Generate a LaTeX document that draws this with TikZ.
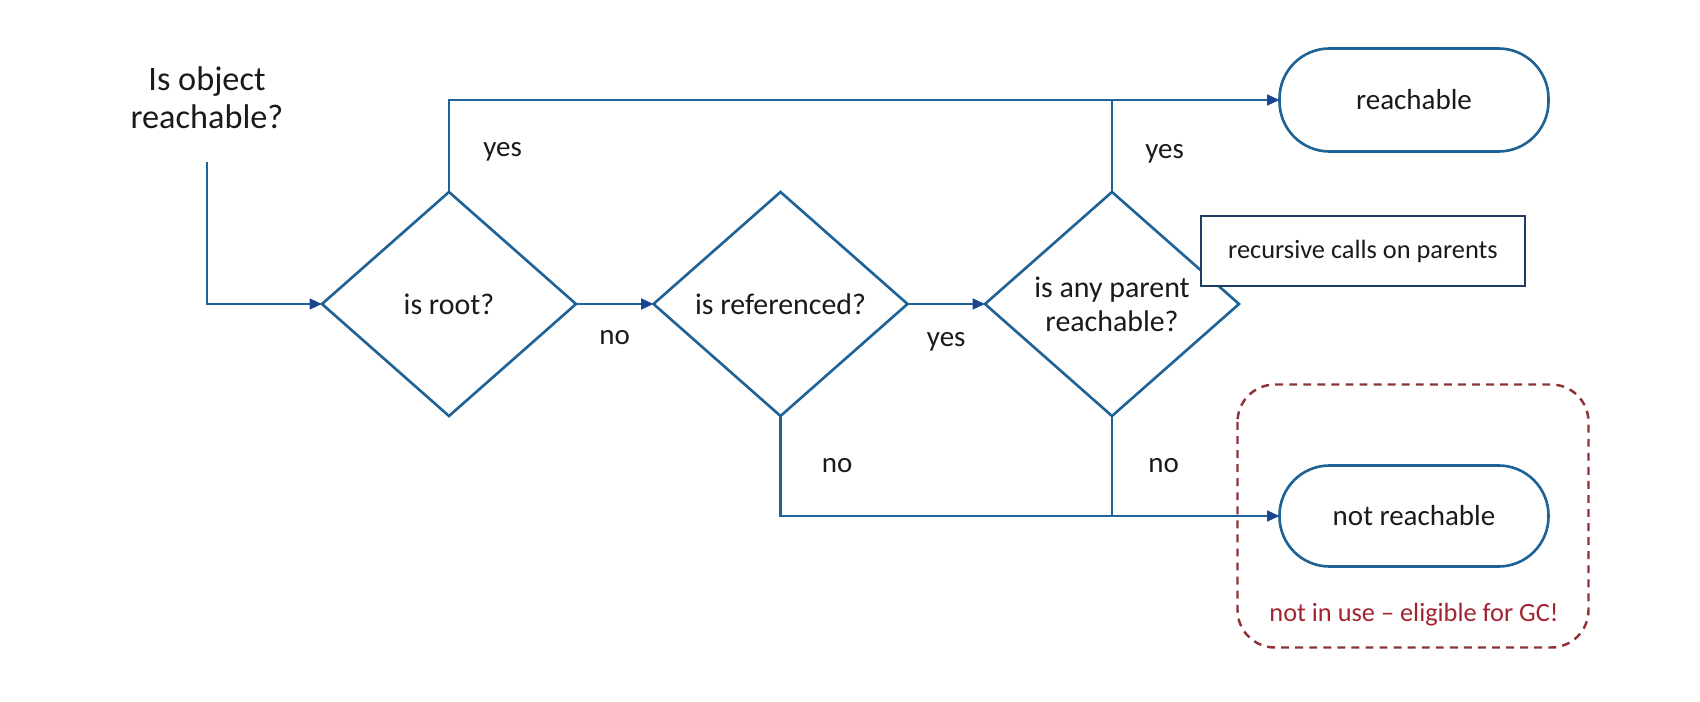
\documentclass[tikz,border=0pt]{standalone}
\usepackage{fontspec}
\setmainfont{Carlito}
\usepackage{xcolor}
\usepackage{tikz}
\usetikzlibrary{shapes.geometric,arrows.meta,positioning,calc}
\definecolor{FlowBlue}{HTML}{1F6396}
\definecolor{TipBlue}{HTML}{1A4590}
\definecolor{NoteNavy}{HTML}{1D3D63}
\definecolor{GcRed}{HTML}{8E3236}
\definecolor{GcText}{HTML}{A3242F}
\definecolor{InkDark}{HTML}{1A1A1A}
\tikzset{
  dec/.style={diamond,draw=FlowBlue,line width=1.5pt,fill=white,
              minimum width=5.08cm,minimum height=4.48cm,
              inner sep=0pt,outer sep=0pt,align=center,text=InkDark,
              font=\fontsize{17}{19.5}\selectfont},
  term/.style={rectangle,rounded corners=1.0cm,draw=FlowBlue,line width=1.5pt,
               minimum width=5.38cm,minimum height=2.06cm,outer sep=0pt,
               text=InkDark,font=\fontsize{16.5}{19}\selectfont},
  note/.style={rectangle,draw=NoteNavy,line width=1.6pt,fill=white,
               minimum width=6.48cm,minimum height=1.4cm,
               text=InkDark,font=\fontsize{15}{18}\selectfont},
  arr/.style={-{Triangle[length=7pt,width=6pt,color=TipBlue]},
              line width=1.5pt,draw=FlowBlue},
  lnk/.style={line width=1.5pt,draw=FlowBlue},
  lbl/.style={text=InkDark,font=\fontsize{16.5}{19}\selectfont,inner sep=0pt},
  gc/.style={draw=GcRed,line width=1.4pt,dash pattern=on 4.5pt off 3.5pt,
             rounded corners=0.75cm}
}
\begin{document}
\begin{tikzpicture}
  \useasboundingbox (0,0) rectangle (34,-14.04);
  % decisions
  \node[dec] (root) at (8.98,-6.08) {is root?};
  \node[dec,right=1.55cm of root] (ref) {is referenced?};
  \node[dec,right=1.55cm of ref] (par) {is any parent\\reachable?};
  % results
  \node[term] (reach) at (28.28,-2.0) {reachable};
  \node[term,minimum height=2.02cm] (notreach) at (28.28,-10.32) {not reachable};
  \node[note] (recur) at (27.26,-5.02) {recursive calls on parents};
  \node[align=center,text=InkDark,font=\fontsize{19.5}{21.5}\selectfont]
    (title) at (4.14,-1.95) {Is object\\reachable?};
  \coordinate (start) at (4.14,-3.24);
  % flow
  \draw[arr] (start) |- (root.west);
  \draw[arr] (root.north) |- node[lbl,pos=0.22,right=0.66cm]{yes} (reach.west);
  \draw[lnk] (par.north) -- node[lbl,pos=0.42,right=0.64cm]{yes} (par.north |- reach.west);
  \draw[arr] (root.east) -- node[lbl,below=0.5cm]{no} (ref.west);
  \draw[arr] (ref.east) -- node[lbl,below=0.55cm]{yes} (par.west);
  \draw[arr] (ref.south) |- node[lbl,pos=0.25,right=0.8cm]{no} (notreach.west);
  \draw[lnk] (par.south) -- node[lbl,right=0.7cm]{no} (par.south |- notreach.west);
  % garbage collection area
  \draw[gc] ($(notreach.north west)+(-0.84,1.62)$) rectangle
            ($(notreach.south east)+(0.8,-1.62)$);
  \node[below=0.72cm of notreach,text=GcText,inner sep=0pt,
        font=\fontsize{15}{18}\selectfont] (gclbl) {not in use – eligible for GC!};
\end{tikzpicture}
\end{document}
